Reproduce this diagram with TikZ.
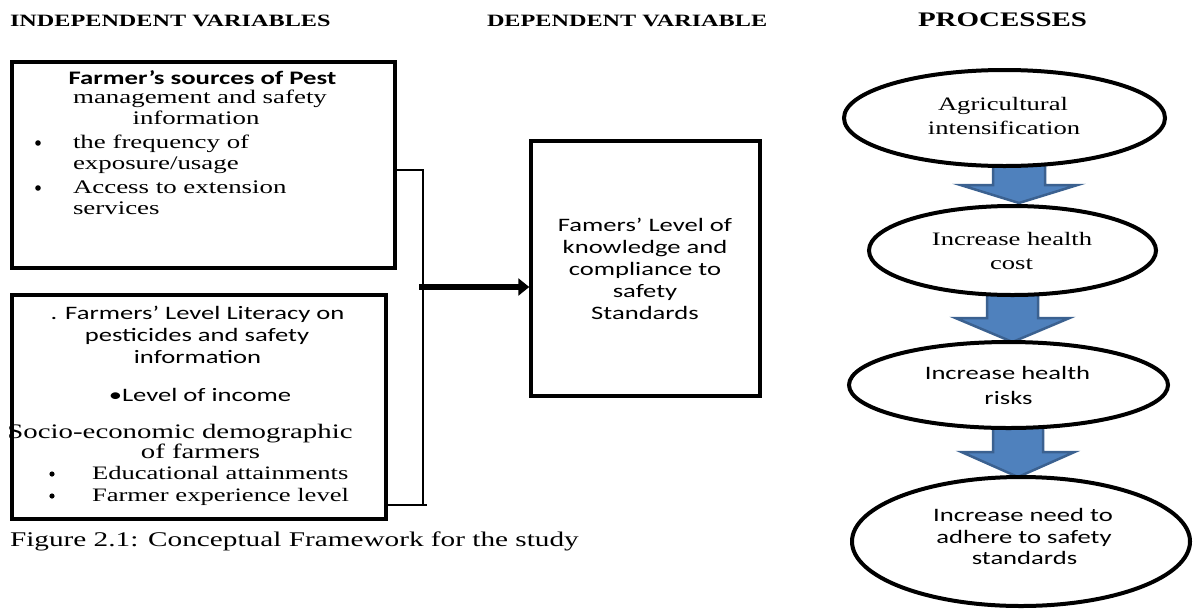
\documentclass[tikz,border=0pt]{standalone}
\usepackage{fontspec}
\usepackage{graphicx}
\setmainfont{Liberation Serif}
\newfontfamily\tnrfont[FakeStretch=1.4]{Liberation Serif}
\newfontfamily\calfont[FakeStretch=1.4]{Carlito}
\usetikzlibrary{arrows.meta,calc,shapes.geometric}
\definecolor{abfill}{HTML}{4F81BD}
\definecolor{abdraw}{HTML}{3B6190}
\newcommand\fs[1]{\fontsize{#1}{#1}\selectfont}
\tikzset{
  txt/.style={inner sep=0pt, outer sep=0pt},
  box/.style={draw, line width=3.5pt, rectangle, inner sep=0pt},
  oval/.style={draw, line width=4pt, ellipse, fill=white, inner sep=0pt},
  barrowsty/.style={fill=abfill, draw=abdraw, line width=2.5pt, line join=miter},
  brk/.style={line width=1.5pt},
  bigarrow/.style={line width=6.5pt, -{Triangle[length=11pt,width=17pt]}},
  dot/.style={fill=black},
}
\newcommand\blkarrow[6]{\filldraw[barrowsty] (#1-#5,#2) -- (#1-#5,#3) -- (#1-#6,#3) -- (#1,#4) -- (#1+#6,#3) -- (#1+#5,#3) -- (#1+#5,#2) -- cycle;}
\begin{document}
\begin{tikzpicture}[x=1pt,y=-1pt]
\useasboundingbox (0,0) rectangle (1193,611);

% headings
\node[txt,anchor=base west] (h1) at (10,26) {\tnrfont\fs{17.3}\bfseries INDEPENDENT VARIABLES};
\node[txt,anchor=base west] (h2) at (487,26) {\tnrfont\fs{17.3}\bfseries DEPENDENT VARIABLE};
\node[txt,anchor=base west] (h3) at (918,26) {\tnrfont\fs{20.7}\bfseries PROCESSES};

% boxes
\node[box, minimum width=383pt, minimum height=206pt] (b1) at (203.5,165) {};
\node[box, minimum width=374pt, minimum height=224pt] (b2) at (199,407) {};
\node[box, minimum width=229pt, minimum height=255pt] (b3) at (645.5,268.5) {};

% box 1 text
\node[txt,anchor=base] (b1l1) at (202.5,84) {\calfont\fs{19.1}\bfseries Farmer’s sources of Pest};
\node[txt,anchor=base] (b1l2) at (200,103) {\tnrfont\fs{19.2}management and safety};
\node[txt,anchor=base] (b1l3) at (196,124) {\tnrfont\fs{19.2}information};
\fill[dot] (38,143) circle (2.8pt);
\node[txt,anchor=base west] (b1l4) at (73,148) {\tnrfont\fs{19.2}the frequency of};
\node[txt,anchor=base west] (b1l5) at (73,169) {\tnrfont\fs{19.2}exposure/usage};
\fill[dot] (38,188) circle (2.8pt);
\node[txt,anchor=base west] (b1l6) at (73,193) {\tnrfont\fs{19.2}Access to extension};
\node[txt,anchor=base west] (b1l7) at (73,214) {\tnrfont\fs{19.2}services};

% box 2 text
\node[txt,anchor=base] (b2l1) at (197.5,319) {\calfont\fs{19}. Farmers’ Level Literacy on};
\node[txt,anchor=base] (b2l2) at (197,341) {\calfont\fs{19}pesticides and safety};
\node[txt,anchor=base] (b2l3) at (197.5,363) {\calfont\fs{19}information};
\node[txt,anchor=base] (b2l4) at (200,401) {\calfont\fs{19}•Level of income};
\node[txt,anchor=base] (b2l5) at (180,438) {\tnrfont\fs{20.6}Socio-economic demographic};
\node[txt,anchor=base] (b2l6) at (200.5,458) {\tnrfont\fs{20.6}of farmers};
\fill[dot] (52,474) circle (2.6pt);
\node[txt,anchor=base west] (b2l7) at (92,479) {\tnrfont\fs{19}Educational attainments};
\fill[dot] (52,496) circle (2.6pt);
\node[txt,anchor=base west] (b2l8) at (92,501) {\tnrfont\fs{19}Farmer experience level};

% box 3 text
\node[txt,anchor=base] (b3l1) at (645,231) {\calfont\fs{19}Famers’ Level of};
\node[txt,anchor=base] (b3l2) at (645,253) {\calfont\fs{19}knowledge and};
\node[txt,anchor=base] (b3l3) at (645,275) {\calfont\fs{19}compliance to};
\node[txt,anchor=base] (b3l4) at (645,297) {\calfont\fs{19}safety};
\node[txt,anchor=base] (b3l5) at (645,319) {\calfont\fs{19}Standards};

% bracket and arrow
\coordinate (bt) at (423,170);
\coordinate (bb) at (423,505);
\coordinate (bm) at (419,287);
\draw[brk] (b1.east |- bt) -- (bt) -- (bb);
\draw[brk] (b2.east |- bb) -- ([xshift=4pt]bb);
\draw[bigarrow] (bm) -- (b3.west |- bm);

% caption
\node[txt,anchor=base west] (cap) at (10,546) {\tnrfont\fs{20.9}Figure 2.1: Conceptual Framework for the study};

% process arrows
\blkarrow{1019}{160}{185}{203}{26}{58.5}
\blkarrow{1012.5}{290}{318}{342}{25.5}{57}
\blkarrow{1018}{425}{452}{477}{25}{56.5}

% ellipses
\node[oval, minimum width=321pt, minimum height=96pt] (e1) at (1004.5,118) {};
\node[oval, minimum width=287pt, minimum height=89pt] (e2) at (1012.5,250.5) {};
\node[oval, minimum width=319pt, minimum height=86pt] (e3) at (1008.5,385) {};
\node[oval, minimum width=338pt, minimum height=129pt] (e4) at (1021,541.5) {};

\node[txt,anchor=base] (e1l1) at (1003,110) {\tnrfont\fs{19}Agricultural};
\node[txt,anchor=base] (e1l2) at (1004,134) {\tnrfont\fs{19}intensification};
\node[txt,anchor=base] (e2l1) at (1012,245) {\tnrfont\fs{19}Increase health};
\node[txt,anchor=base] (e2l2) at (1011.5,269) {\tnrfont\fs{19}cost};
\node[txt,anchor=base] (e3l1) at (1007.5,379) {\calfont\fs{19}Increase health};
\node[txt,anchor=base] (e3l2) at (1008.5,404) {\calfont\fs{19}risks};
\node[txt,anchor=base] (e4l1) at (1023,521) {\calfont\fs{19}Increase need to};
\node[txt,anchor=base] (e4l2) at (1024,543) {\calfont\fs{19}adhere to safety};
\node[txt,anchor=base] (e4l3) at (1024.5,564) {\calfont\fs{19}standards};
\end{tikzpicture}
\end{document}
